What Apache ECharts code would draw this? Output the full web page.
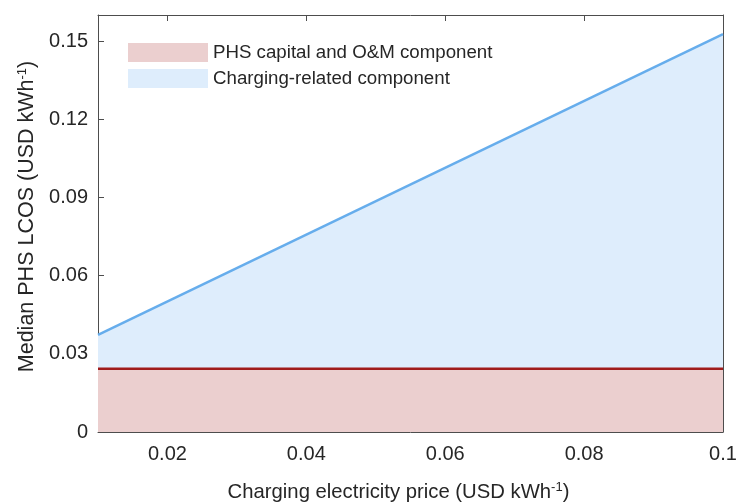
<!DOCTYPE html>
<html>
<head>
<meta charset="utf-8">
<script src="https://cdn.jsdelivr.net/npm/echarts@6/dist/echarts.min.js"></script>
<style>
  html, body { margin: 0; padding: 0; background: #fff; }
  #chart { width: 741px; height: 502px; }
</style>
</head>
<body>
<div id="chart"></div>
<script>
// Charging electricity price (USD/kWh) at the ends of the range
const prices = [0.01, 0.1];
// PHS capital and O&M component of median LCOS (USD/kWh)
const capitalComponent = [0.0243, 0.0243];
// Charging-related component stacked on top (USD/kWh)
const chargingComponent = [0.0130, 0.1284];
const xTicks = [0.02, 0.04, 0.06, 0.08, 0.1];
const yTicks = [0, 0.03, 0.06, 0.09, 0.12, 0.15];

// Upper edge of the stack = capital + charging
const totalLcos = capitalComponent.map((c, i) => c + chargingComponent[i]);

const FONT = 'Liberation Sans, Arial, sans-serif';
const AXIS_COLOR = '#4d4d4d';
const TEXT_COLOR = '#262626';

const chart = echarts.init(document.getElementById('chart'), null, { renderer: 'canvas' });

const fmt = v => (Math.abs(v) < 1e-9 ? '0' : String(+v.toFixed(2)));

const baseAxis = {
  axisLine: { show: true, onZero: false, lineStyle: { color: AXIS_COLOR, width: 1 } },
  axisTick: { show: true, inside: true, length: 6, lineStyle: { color: AXIS_COLOR, width: 1 } },
  splitLine: { show: false },
};

const supStyle = { fontFamily: FONT, fontSize: 13, color: TEXT_COLOR, padding: [0, 0, 10, 0] };

const option = {
  animation: false,
  backgroundColor: '#ffffff',
  grid: { left: 98, right: 18, top: 15, bottom: 70, containLabel: false, outerBoundsMode: 'none' },
  legend: {
    left: 123, top: 38,
    orient: 'vertical',
    itemWidth: 80, itemHeight: 19, itemGap: 7,
    textStyle: { fontFamily: FONT, fontSize: 18.7, color: TEXT_COLOR, lineHeight: 19 },
    data: [
      { name: 'PHS capital and O&M component', icon: 'rect', itemStyle: { color: '#ebcfcf', borderWidth: 0 } },
      { name: 'Charging-related component', icon: 'rect', itemStyle: { color: '#deedfc', borderWidth: 0 } }
    ]
  },
  xAxis: [
    Object.assign({}, baseAxis, {
      type: 'value', min: 0.01, max: 0.1,
      axisLabel: {
        customValues: xTicks, formatter: fmt, margin: 12,
        fontFamily: FONT, fontSize: 20, color: TEXT_COLOR
      },
      axisTick: Object.assign({}, baseAxis.axisTick, { customValues: xTicks }),
      name: 'Charging electricity price (USD kWh{sup|-1})',
      nameLocation: 'middle', nameGap: 49,
      nameTextStyle: {
        fontFamily: FONT, fontSize: 20.3, color: TEXT_COLOR,
        padding: [0, 24, 0, 0], rich: { sup: supStyle }
      }
    }),
    Object.assign({}, baseAxis, {
      type: 'value', min: 0.01, max: 0.1, position: 'top',
      axisLabel: { show: false },
      axisTick: Object.assign({}, baseAxis.axisTick, { customValues: xTicks })
    })
  ],
  yAxis: [
    Object.assign({}, baseAxis, {
      type: 'value', min: 0, max: 0.16,
      axisLabel: {
        customValues: yTicks, formatter: fmt, margin: 10,
        fontFamily: FONT, fontSize: 20, color: TEXT_COLOR
      },
      axisTick: Object.assign({}, baseAxis.axisTick, { customValues: yTicks }),
      name: 'Median PHS LCOS (USD kWh{sup|-1})',
      nameLocation: 'middle', nameGap: 52, nameRotate: 90,
      nameTextStyle: {
        fontFamily: FONT, fontSize: 21.5, color: TEXT_COLOR,
        padding: [0, 0, 0, 14], rich: { sup: supStyle }
      }
    }),
    Object.assign({}, baseAxis, {
      type: 'value', min: 0, max: 0.16, position: 'right',
      axisLabel: { show: false },
      axisTick: Object.assign({}, baseAxis.axisTick, { customValues: yTicks })
    })
  ],
  series: [
    {
      name: 'Charging-related component',
      type: 'line', symbol: 'none',
      data: prices.map((p, i) => [p, totalLcos[i]]),
      lineStyle: { color: '#66adec', width: 2.5 },
      areaStyle: { color: '#deedfc', opacity: 1, origin: 'start' },
      itemStyle: { color: '#deedfc' },
      z: 2
    },
    {
      name: 'PHS capital and O&M component',
      type: 'line', symbol: 'none',
      data: prices.map((p, i) => [p, capitalComponent[i]]),
      lineStyle: { color: '#a01c1c', width: 2.5 },
      areaStyle: { color: '#ebcfcf', opacity: 1, origin: 'start' },
      itemStyle: { color: '#ebcfcf' },
      z: 3
    }
  ]
};

chart.setOption(option);
</script>
</body>
</html>
